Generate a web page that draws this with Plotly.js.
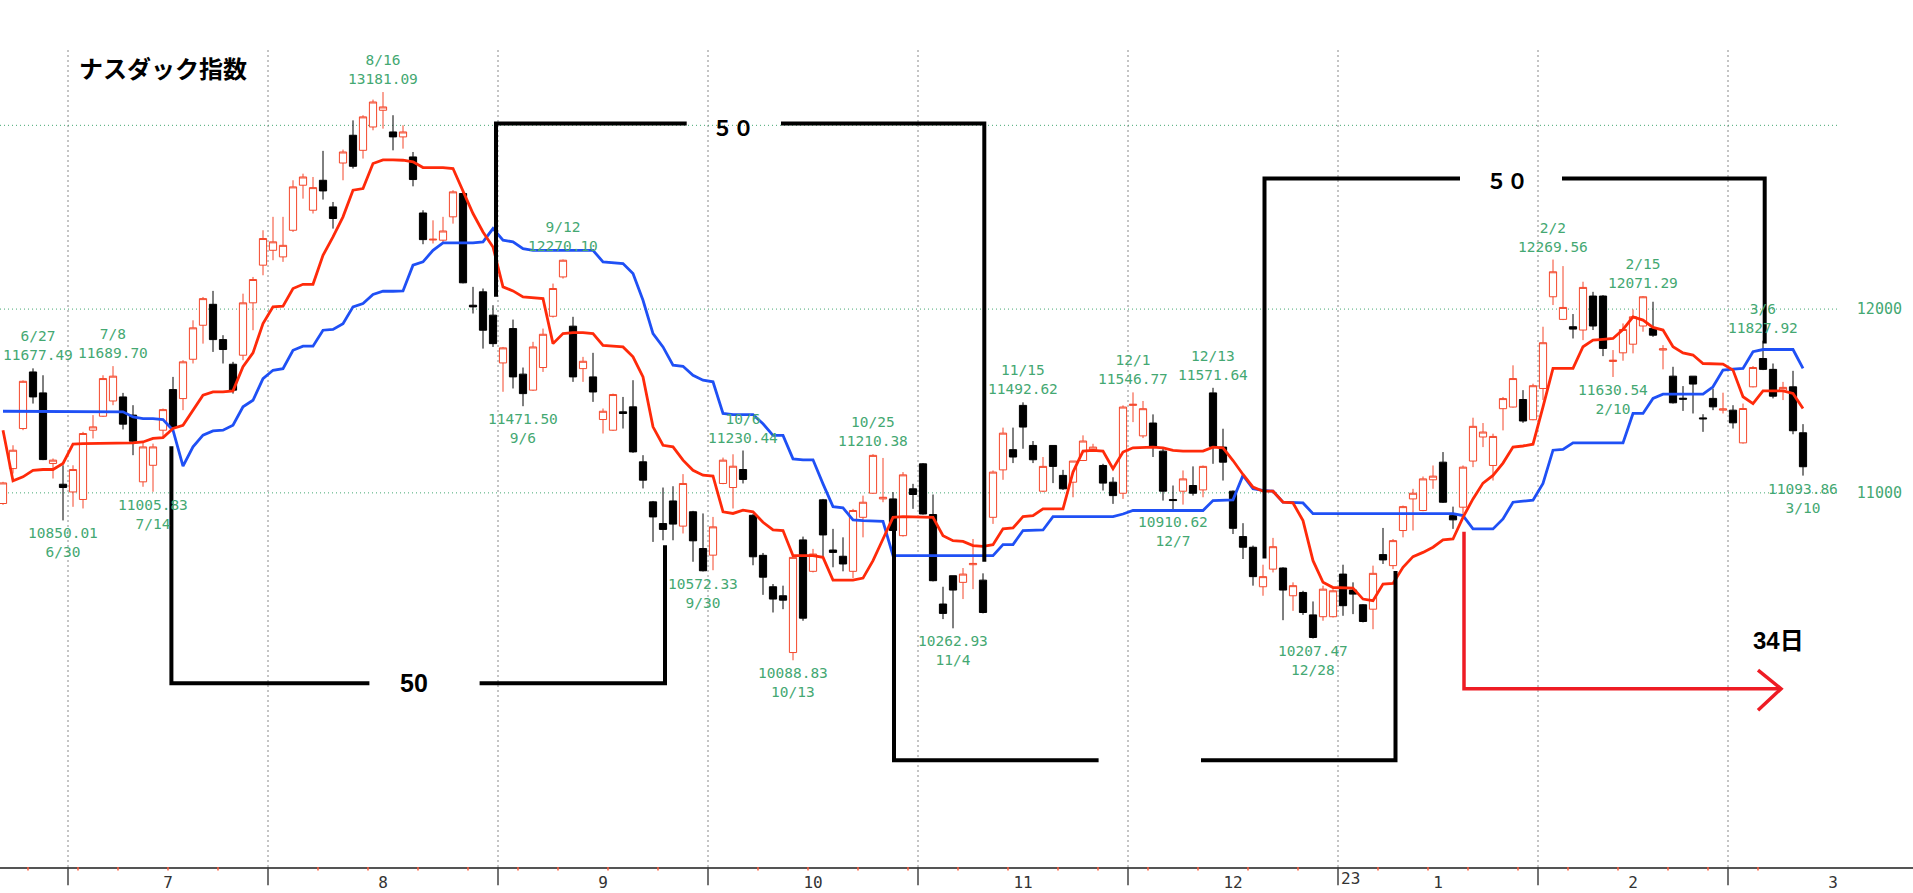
<!DOCTYPE html>
<html><head><meta charset="utf-8">
<script src="https://cdn.plot.ly/plotly-3.0.1.min.js"></script>
<style>html,body{margin:0;padding:0;background:#fff;}#chart{width:1913px;height:893px;}</style>
</head><body><div id="chart"></div>
<script>
// ---------- data ----------
const dates = [
'2022-06-22','2022-06-23','2022-06-24','2022-06-27','2022-06-28','2022-06-29','2022-06-30',
'2022-07-01','2022-07-05','2022-07-06','2022-07-07','2022-07-08','2022-07-11','2022-07-12','2022-07-13','2022-07-14','2022-07-15',
'2022-07-18','2022-07-19','2022-07-20','2022-07-21','2022-07-22','2022-07-25','2022-07-26','2022-07-27','2022-07-28','2022-07-29',
'2022-08-01','2022-08-02','2022-08-03','2022-08-04','2022-08-05','2022-08-08','2022-08-09','2022-08-10','2022-08-11','2022-08-12',
'2022-08-15','2022-08-16','2022-08-17','2022-08-18','2022-08-19','2022-08-22','2022-08-23','2022-08-24','2022-08-25','2022-08-26',
'2022-08-29','2022-08-30','2022-08-31',
'2022-09-01','2022-09-02','2022-09-06','2022-09-07','2022-09-08','2022-09-09','2022-09-12','2022-09-13','2022-09-14','2022-09-15','2022-09-16',
'2022-09-19','2022-09-20','2022-09-21','2022-09-22','2022-09-23','2022-09-26','2022-09-27','2022-09-28','2022-09-29','2022-09-30',
'2022-10-03','2022-10-04','2022-10-05','2022-10-06','2022-10-07','2022-10-10','2022-10-11','2022-10-12','2022-10-13','2022-10-14',
'2022-10-17','2022-10-18','2022-10-19','2022-10-20','2022-10-21','2022-10-24','2022-10-25','2022-10-26','2022-10-27','2022-10-28','2022-10-31',
'2022-11-01','2022-11-02','2022-11-03','2022-11-04','2022-11-07','2022-11-08','2022-11-09','2022-11-10','2022-11-11',
'2022-11-14','2022-11-15','2022-11-16','2022-11-17','2022-11-18','2022-11-21','2022-11-22','2022-11-23','2022-11-25',
'2022-11-28','2022-11-29','2022-11-30',
'2022-12-01','2022-12-02','2022-12-05','2022-12-06','2022-12-07','2022-12-08','2022-12-09','2022-12-12','2022-12-13','2022-12-14','2022-12-15','2022-12-16',
'2022-12-19','2022-12-20','2022-12-21','2022-12-22','2022-12-23','2022-12-27','2022-12-28','2022-12-29','2022-12-30',
'2023-01-03','2023-01-04','2023-01-05','2023-01-06','2023-01-09','2023-01-10','2023-01-11','2023-01-12','2023-01-13',
'2023-01-17','2023-01-18','2023-01-19','2023-01-20','2023-01-23','2023-01-24','2023-01-25','2023-01-26','2023-01-27','2023-01-30','2023-01-31',
'2023-02-01','2023-02-02','2023-02-03','2023-02-06','2023-02-07','2023-02-08','2023-02-09','2023-02-10','2023-02-13','2023-02-14','2023-02-15',
'2023-02-16','2023-02-17','2023-02-21','2023-02-22','2023-02-23','2023-02-24','2023-02-27','2023-02-28',
'2023-03-01','2023-03-02','2023-03-03','2023-03-06','2023-03-07','2023-03-08','2023-03-09','2023-03-10'
];
const opens = [
10942,11132,11350,11658,11544,11160,11047,11005,10964,11341,11417,11500,11522,
11423,11060,11150,11341,11562,11513,11727,11912,12026,11834,
11700,11749,12034,12239,12320,12284,12429,12674,12538,12701,
12556,12795,12946,12864,12991,13082,12964,12937,12828,12523,
12376,12375,12502,12629,12021,12094,11967,11707,11894,11646,
11559,11682,11961,12175,11907,11676,11631,11399,11341,11441,
11468,11169,10951,10833,10956,10819,10897,10697,10661,11051,
11029,11127,10878,10660,10489,10440,10131,10744,10573,10962,
10689,10655,10573,10867,10998,10967,10967,10767,11022,11158,
10882,10395,10549,10513,10609,10525,10867,11125,11235,11476,
11258,11009,11258,11095,11058,11176,11235,11149,11058,10998,
11476,11310,11380,11227,10964,11009,11040,11016,11544,11249,
11009,10762,10704,10489,10585,10591,10440,10458,10336,10326,
10326,10558,10471,10391,10367,10664,10604,10795,10967,10904,
11071,11167,10876,10922,11173,11304,11149,11458,11467,11508,
11398,11568,12067,11944,11904,11886,12071,12071,11715,11762,
11809,11908,11895,11777,11635,11515,11635,11408,11514,11450,
11450,11272,11577,11731,11672,11559,11577,11327
];
const highs = [
11060,11259,11612,11677.49,11640,11187,11150,11150,11332,11423,11640,11689.70,11544,
11477,11272,11268,11459,11631,11722,11939,12066,12099,11858,
11713,12084,12175,12429,12502,12502,12701,12737,12719,12861,
12583,12868,13027,13055,13140,13181.09,13055,13000,12855,12538,
12483,12502,12647,12647,12121,12112,12021,11794,11943,11682,
11822,11894,12139,12270.10,11958,11740,11762,11459,11540,11522,
11613,11205,10956,11029,11036,11102,10902,10888,10869,11192,
11210,11230.44,10884,10673,10504,10495,10658,10762,10695,10967,
10804,10758,10913,10985,11210.38,11190,11004,11113,11049,11162,
10991,10489,10549,10591,10749,10562,11122,11355,11355,11492.62,
11282,11195,11258,11125,11173,11313,11267,11158,11085,11476,
11546.77,11500,11427,11240,11040,11122,11144,11149,11571.64,11349,
11013,10835,10713,10609,10755,10595,10513,10467,10409,10495,
10476,10609,10513,10395,10604,10809,10749,10931,11022,11089,
11149,11222,10925,11149,11409,11380,11322,11522,11694,11559,
11594,11904,12269.56,12234,11973,12149,12094,12076,11777,11922,
11998,12071.29,12040,11804,11686,11581,11635,11428,11568,11545,
11477,11486,11690,11827.92,11704,11604,11664,11374
];
const lows = [
10935,11105,11341,11486,11178,11078,10850.01,10924,10915,11296,11413,11477,11345,
11205,11033,11005.83,11305,11341,11450,11704,11812,11767,11704,
11540,11722,11885,12184,12266,12257,12420,12601,12520,12596,
12438,12701,12765,12819,12973,12982,12864,12873,12668,12353,
12357,12357,12465,12140,11976,11785,11794,11550,11568,11471.50,
11555,11658,11954,12166,11604,11604,11495,11323,11337,11350,
11218,11024,10733,10742,10742,10779,10625,10572.33,10579,11047,
10915,11051,10606,10445,10349,10367,10088.83,10304,10567,10649,
10595,10573,10536,10758,10995,10949,10785,10762,10913,10882,
10518,10313,10262.93,10422,10476,10344,10831,11071,11162,11240,
11162,11004,11053,11016,10976,11173,11227,11013,10940,10967,
11385,11298,11195,10958,10910.62,10936,10985,10976,11158,11067,
10776,10640,10495,10440,10567,10307,10358,10336,10207.47,10304,
10322,10331,10340,10295,10258,10613,10585,10758,10795,10900,
11022,10945,10804,10876,11140,11249,11067,11340,11464,11381,
11395,11505,12022,11940,11840,11831,11886,11744,11630.54,11719,
11759,11877,11849,11672,11486,11446,11432,11332,11450,11432,
11350,11268,11574,11668,11514,11505,11319,11093.86
];
const closes = [
11054,11232,11607,11522,11181,11178,11029,11127,11323,11359,11622,11635,11374,
11281,11250,11250,11453,11359,11713,11898,12057,11834,11780,
11559,12034,12161,12384,12366,12347,12665,12719,12661,12643,
12493,12855,12777,13046,13127,13100,12937,12964,12705,12378,
12380,12425,12638,12143,12012,11885,11812,11789,11631,11540,
11794,11863,12112,12266,11631,11716,11549,11444,11535,11432,
11223,11069,10869,10801,10830,11051,10739,10576,10815,11178,
11145,11073,10652,10541,10422,10416,10649,10318,10667,10771,
10676,10613,10904,10949,11204,10976,10795,11098,10991,10885,
10522,10344,10471,10558,10616,10349,11113,11325,11195,11358,
11180,11144,11144,11022,11173,11282,11249,11053,10985,11467,
11482,11458,11249,11009,10958,11076,10998,11144,11253,11167,
10807,10704,10544,10544,10707,10471,10495,10349,10213,10476,
10467,10386,10449,10300,10562,10635,10740,10925,10998,11076,
11091,10949,10853,11140,11362,11331,11307,11513,11622,11391,
11583,11817,12203,12009,11891,12118,11908,11786,11722,11889,
11958,12067,11858,11784,11490,11510,11592,11403,11468,11457,
11381,11459,11682,11672,11526,11574,11338,11142
];
// red line (short mid-line) and blue line (base line)
const redLine = [
11341,11065,11087,11123,11127,11127,11160,11265,11268,11268,11268,11268,11268,
11272,11277,11296,11301,11350,11368,11450,11531,11549,11549,
11555,11686,11762,11921,12012,12016,12112,12135,12135,12293,
12393,12502,12647,12656,12792,12812,12812,12810,12801,12770,
12770,12770,12765,12647,12520,12420,12338,12121,12099,12066,
12063,12057,11812,11867,11872,11872,11867,11803,11798,11794,
11740,11631,11359,11259,11250,11178,11123,11096,11091,10897,
10888,10906,10897,10840,10798,10795,10658,10658,10658,10649,
10525,10525,10525,10536,10631,10749,10867,10871,10871,10871,
10867,10767,10740,10736,10713,10709,10718,10804,10809,10871,
10876,10913,10913,10913,11113,11227,11231,11227,11131,11222,
11245,11249,11249,11245,11231,11227,11227,11227,11249,11245,
11176,11100,11031,11009,11009,10949,10945,10849,10631,10513,
10485,10485,10482,10422,10413,10504,10507,10595,10653,10676,
10704,10744,10749,10867,10967,11053,11095,11162,11249,11255,
11265,11468,11677,11677,11677,11795,11831,11835,11840,11889,
11958,11940,11900,11886,11795,11762,11750,11704,11704,11701,
11668,11523,11486,11555,11555,11555,11541,11459
];
const blueLine = [
11444,11444,11444,11444,11444,11444,11444,11444,11444,11444,11444,11444,11441,
11413,11404,11404,11399,11341,11145,11250,11314,11337,11341,
11368,11468,11504,11622,11667,11676,11776,11798,11798,11885,
11889,11921,12012,12030,12080,12097,12097,12099,12239,12257,
12320,12360,12360,12360,12360,12366,12438,12375,12366,12329,
12320,12320,12320,12320,12320,12320,12320,12257,12251,12248,
12193,12048,11867,11794,11695,11689,11640,11613,11604,11432,
11426,11426,11426,11376,11313,11313,11185,11180,11180,11049,
10925,10918,10853,10849,10849,10845,10658,10658,10658,10658,
10658,10658,10658,10658,10658,10658,10658,10718,10718,10795,
10795,10798,10871,10871,10871,10871,10871,10871,10871,10885,
10904,10904,10904,10904,10904,10904,10904,10904,10958,10958,
10962,11095,11022,11013,11009,10949,10945,10945,10887,10887,
10887,10887,10887,10887,10887,10887,10887,10887,10887,10887,
10887,10887,10887,10876,10804,10804,10804,10858,10949,10955,
10960,11051,11232,11236,11272,11272,11272,11272,11272,11272,
11432,11432,11514,11537,11537,11537,11537,11537,11577,11668,
11673,11677,11768,11780,11780,11780,11780,11677
];
// labelled highs / lows
const markDates  = ['2022-06-27','2022-06-30','2022-07-08','2022-07-14','2022-08-16','2022-09-06','2022-09-12','2022-09-30','2022-10-06','2022-10-13','2022-10-25','2022-11-04','2022-11-15','2022-12-01','2022-12-07','2022-12-13','2022-12-28','2023-02-02','2023-02-10','2023-02-15','2023-03-06','2023-03-10'];
const markValues = ['11677.49','10850.01','11689.70','11005.83','13181.09','11471.50','12270.10','10572.33','11230.44','10088.83','11210.38','10262.93','11492.62','11546.77','10910.62','11571.64','10207.47','12269.56','11630.54','12071.29','11827.92','11093.86'];
const markKinds  = ['H','L','H','L','H','L','H','L','H','L','H','L','H','H','L','H','L','H','L','H','H','L'];
const gridValues = [11000, 12000, 13000];
const yTickValues = [11000, 12000];
const chartTitle = 'ナスダック指数';

// ---------- styling ----------
const GREEN = '#44a872';
const UP = '#f4472b';
const RED_LINE = '#ff2a0a';
const BLUE_LINE = '#1f50f5';
const X0 = -0.3, X1 = 191;
const PLOT_W = 1913;
const labelFont = {family: 'DejaVu Sans Mono, Liberation Mono, monospace', size: 14.5, color: GREEN};
const boldJP = 'Liberation Sans, Noto Sans CJK JP, sans-serif';

const N = dates.length;
const xs = dates.map((d, i) => i);
const px = i => (i - X0) / (X1 - X0); // paper fraction for an index

// month structure
const monthStarts = [];
for (let i = 1; i < N; i++) if (dates[i].slice(0, 7) !== dates[i - 1].slice(0, 7)) monthStarts.push(i);
const tickVals = [], tickText = [];
monthStarts.forEach((s, k) => {
  const e = k + 1 < monthStarts.length ? monthStarts[k + 1] - 1 : s + 20;
  tickVals.push((s + e) / 2);
  tickText.push(String(parseInt(dates[s].slice(5, 7), 10)));
});
// week starts
const weekStarts = [];
for (let i = 1; i < N; i++) {
  const a = new Date(dates[i - 1] + 'T00:00:00Z'), b = new Date(dates[i] + 'T00:00:00Z');
  if (b.getUTCDay() <= a.getUTCDay() || (b - a) > 4 * 86400000) weekStarts.push(i);
}

const shapes = [];
gridValues.forEach(v => shapes.push({type: 'line', xref: 'x', yref: 'y', x0: X0, x1: 183.5, y0: v, y1: v,
  line: {color: GREEN, width: 1, dash: '1px,3px'}, layer: 'below'}));
monthStarts.forEach(s => {
  shapes.push({type: 'line', xref: 'x', yref: 'paper', x0: s - 0.5, x1: s - 0.5, y0: 0, y1: 0.9458,
    line: {color: '#8a8a8a', width: 1, dash: '2px,3px'}, layer: 'below'});
  shapes.push({type: 'line', xref: 'paper', yref: 'paper', x0: px(s - 0.5), x1: px(s - 0.5), y0: 0, y1: -0.021,
    line: {color: '#444', width: 1.5}});
});
weekStarts.forEach(s => {
  if (monthStarts.indexOf(s) >= 0) return;
  shapes.push({type: 'line', xref: 'paper', yref: 'paper', x0: px(s - 0.5), x1: px(s - 0.5), y0: 0, y1: -0.004,
    line: {color: '#ff5a3c', width: 1.5}});
});
const blk = (pts) => shapes.push({type: 'path', xref: 'x', yref: 'y',
  path: 'M' + pts.map(p => p[0] + ',' + p[1]).join('L'), line: {color: '#000', width: 4}, layer: 'above'});
// bracket 1 (bottom, "50")
blk([[16.84, 11254], [16.84, 9964], [36.64, 9964]]);
blk([[47.66, 9964], [66.2, 9964], [66.2, 10715]]);
// bracket 2 (top, "５０")
blk([[49.3, 12067], [49.3, 13010], [68.37, 13010]]);
blk([[77.8, 13010], [98.13, 13010], [98.13, 10625]]);
// bracket 3 (bottom)
blk([[89.1, 10793], [89.1, 9545], [109.56, 9545]]);
blk([[119.8, 9545], [139.25, 9545], [139.25, 10575]]);
// bracket 4 (top, "５０")
blk([[126.15, 10643], [126.15, 12711], [145.7, 12711]]);
blk([[155.9, 12711], [176.17, 12711], [176.17, 11813]]);
// red arrow
shapes.push({type: 'path', xref: 'x', yref: 'y', path: 'M146.1,10788L146.1,9934L177.8,9934',
  line: {color: '#ee1c24', width: 3.5}, layer: 'above'});
shapes.push({type: 'path', xref: 'x', yref: 'y', path: 'M175.5,10035L177.8,9934L175.5,9817',
  line: {color: '#ee1c24', width: 3.5}, layer: 'above'});

const annotations = [];
annotations.push({xref: 'paper', yref: 'paper', x: 77 / 1913, y: 1 - 68 / 867, xanchor: 'left', yanchor: 'middle',
  text: '<b>' + chartTitle + '</b>', showarrow: false, font: {family: 'Noto Sans CJK JP, sans-serif', size: 24, color: '#000'}});
markDates.forEach((d, k) => {
  const i = dates.indexOf(d);
  const md = parseInt(d.slice(5, 7), 10) + '/' + parseInt(d.slice(8, 10), 10);
  const hi = markKinds[k] === 'H';
  const y = hi ? highs[i] : lows[i];
  // keep the label inside the picture when the candle sits at the left edge
  const pixX = px(i) * PLOT_W;
  const halfW = markValues[k].length * labelFont.size * 0.3;
  const atEdge = pixX - halfW < 0;
  annotations.push({x: i, y: y, showarrow: false, font: labelFont,
    text: hi ? md + '<br>' + markValues[k] : markValues[k] + '<br>' + md,
    yanchor: hi ? 'bottom' : 'top', yshift: hi ? 3 : -3,
    xanchor: atEdge ? 'left' : 'center', xshift: atEdge ? -pixX + 1 : 0});
});
annotations.push({x: 41.1, y: 9964, text: '<b>50</b>', showarrow: false, font: {family: boldJP, size: 25, color: '#000'}});
annotations.push({x: 73.0, y: 12990, text: '<b>５０</b>', showarrow: false, font: {family: 'Noto Sans CJK JP, sans-serif', size: 21, color: '#000'}});
annotations.push({x: 150.4, y: 12702, text: '<b>５０</b>', showarrow: false, font: {family: 'Noto Sans CJK JP, sans-serif', size: 21, color: '#000'}});
annotations.push({x: 177.5, y: 10198, text: '<b>34日</b>', showarrow: false, font: {family: boldJP, size: 24, color: '#000'}});
// year marker at year change
for (let i = 1; i < N; i++) if (dates[i].slice(0, 4) !== dates[i - 1].slice(0, 4)) {
  annotations.push({xref: 'x', yref: 'paper', x: i - 0.5, y: -11 / 867, xanchor: 'left', yanchor: 'middle', xshift: 1,
    text: dates[i].slice(2, 4), showarrow: false, font: {family: 'DejaVu Sans Mono, monospace', size: 16, color: '#333'}});
}

const traces = [
  {type: 'candlestick', x: xs, open: opens, high: highs, low: lows, close: closes,
   increasing: {line: {color: UP, width: 1}, fillcolor: '#ffffff'},
   decreasing: {line: {color: '#000', width: 1}, fillcolor: '#000'},
   whiskerwidth: 0, hoverinfo: 'skip', showlegend: false},
  {type: 'scatter', mode: 'lines', x: xs, y: blueLine, line: {color: BLUE_LINE, width: 2.8}, hoverinfo: 'skip'},
  {type: 'scatter', mode: 'lines', x: xs, y: redLine, line: {color: RED_LINE, width: 2.8}, hoverinfo: 'skip'}
];

const layout = {
  width: 1913, height: 893, margin: {l: 0, r: 0, t: 0, b: 26},
  paper_bgcolor: '#fff', plot_bgcolor: '#fff', showlegend: false, hovermode: false,
  boxgap: 0, boxgroupgap: 0.28,
  xaxis: {range: [X0, X1], showgrid: false, zeroline: false, rangeslider: {visible: false},
    tickmode: 'array', tickvals: tickVals, ticktext: tickText, ticks: '',
    showline: true, linecolor: '#555', linewidth: 1.5,
    tickfont: {family: 'DejaVu Sans Mono, monospace', size: 16, color: '#333'}, fixedrange: true},
  yaxis: {range: [8964, 13682], showgrid: false, zeroline: false, side: 'right',
    ticklabelposition: 'inside', tickmode: 'array', tickvals: yTickValues, ticktext: yTickValues.map(String),
    ticks: '', ticklabelstandoff: 8, tickfont: {family: 'DejaVu Sans Mono, monospace', size: 15, color: GREEN},
    showline: false, fixedrange: true},
  shapes: shapes, annotations: annotations
};
Plotly.newPlot('chart', traces, layout, {staticPlot: true, displayModeBar: false});
</script>
</body></html>
